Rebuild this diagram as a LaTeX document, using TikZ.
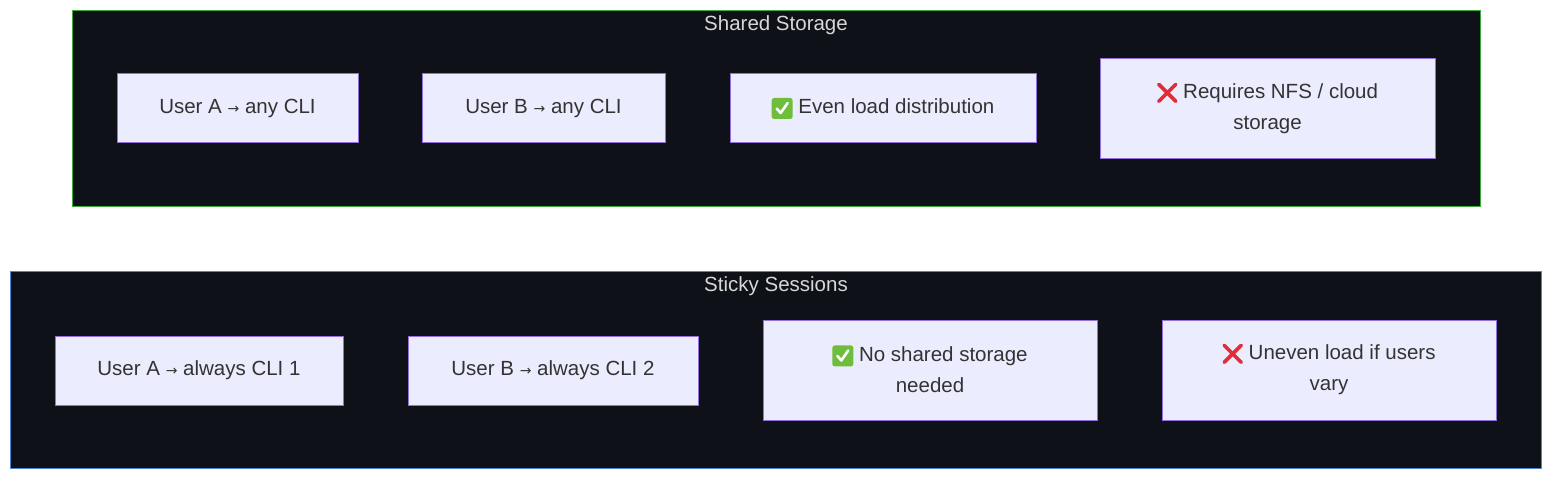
\documentclass[tikz,border=0pt]{standalone}
\usepackage{fontspec}
\setmainfont{Liberation Sans}
\newfontfamily\emo{DejaVu Sans}
\definecolor{bg}{RGB}{14,17,24}
\definecolor{gfr}{RGB}{60,170,60}
\definecolor{bfr}{RGB}{80,130,210}
\definecolor{bxd}{RGB}{147,112,219}
\definecolor{bxf}{RGB}{236,236,255}
\definecolor{txt}{RGB}{51,51,51}
\definecolor{ttc}{RGB}{215,215,215}
\definecolor{okg}{RGB}{110,190,60}
\definecolor{nor}{RGB}{225,45,55}
\begin{document}
\begin{tikzpicture}[x=1pt,y=-1pt,
  frame/.style={draw=#1,fill=bg,line width=1pt},
  box/.style={draw=bxd,fill=bxf,line width=1pt},
  lbl/.style={text=txt,font=\fontsize{20.5}{31}\selectfont,align=center},
  ttl/.style={text=ttc,font=\fontsize{20.5}{22}\selectfont}]
\useasboundingbox (0,0) rectangle (1568,486);
\newcommand{\ok}{\tikz[baseline=0.1em,x=1pt,y=1pt]{\fill[okg,rounded corners=2.5pt] (0,-3) rectangle (21,18);\draw[white,line width=2.6pt,line cap=round,line join=round] (5,7.5)--(9,3)--(16,13);}}
\newcommand{\no}{\tikz[baseline=0.1em,x=1pt,y=1pt]{\draw[nor,line width=3.6pt,line cap=round] (2,-1)--(19,16) (2,16)--(19,-1);}}
\newcommand{\ar}{{\fontsize{14}{14}\selectfont\emo →}}
\path[frame=gfr] (72,11) rectangle (1480,207);
\node[ttl] (t1) at (776,25) {Shared Storage};
\path[frame=bfr] (10,272) rectangle (1541,468);
\node[ttl] (t2) at (776,286) {Sticky Sessions};
\path[box] (117,74) rectangle (358,143);
\node[lbl] (a1) at (237.5,108.5) {User A \ar{} any CLI};
\path[box] (422,74) rectangle (665,143);
\node[lbl] (a2) at (543.5,108.5) {User B \ar{} any CLI};
\path[box] (730,74) rectangle (1036,143);
\node[lbl] (a3) at (883,108.5) {\ok\ Even load distribution};
\path[box] (1100,59) rectangle (1435,159);
\node[lbl] (a4) at (1267.5,108) {\no\ Requires NFS / cloud\\storage};
\path[box] (55,336) rectangle (343,405);
\node[lbl] (b1) at (199,370.5) {User A \ar{} always CLI 1};
\path[box] (408,336) rectangle (698,405);
\node[lbl] (b2) at (553,370.5) {User B \ar{} always CLI 2};
\path[box] (763,320) rectangle (1097,420);
\node[lbl] (b3) at (930,369) {\ok\ No shared storage\\needed};
\path[box] (1162,320) rectangle (1496,420);
\node[lbl] (b4) at (1329,369) {\no\ Uneven load if users\\vary};
\end{tikzpicture}
\end{document}
